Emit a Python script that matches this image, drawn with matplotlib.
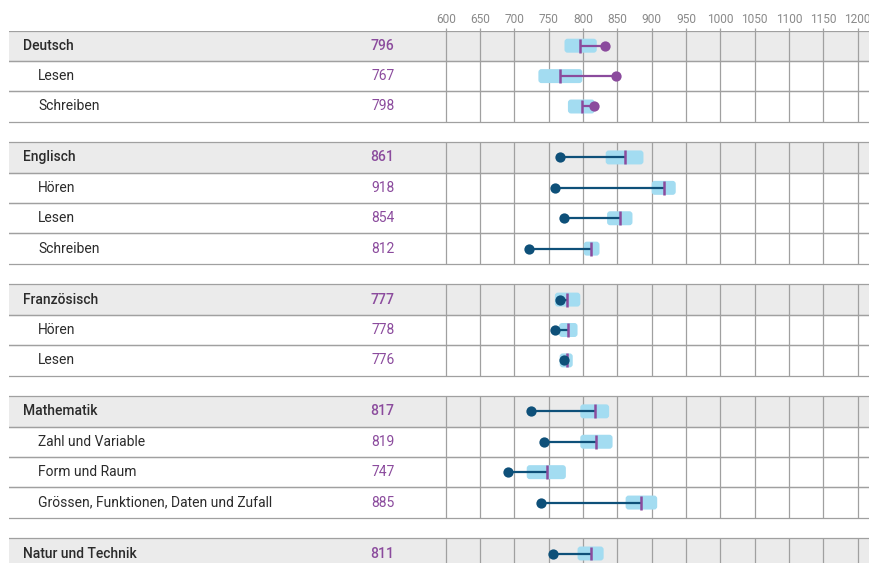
import numpy as np
import matplotlib.pyplot as plt
from matplotlib.patches import FancyBboxPatch
from matplotlib.transforms import blended_transform_factory

plt.rcParams['font.family'] = ['Roboto', 'DejaVu Sans']

# -------------- data --------------
labels = ['Deutsch', 'Lesen', 'Schreiben',
          'Englisch', 'Hören', 'Lesen', 'Schreiben',
          'Französisch', 'Hören', 'Lesen',
          'Mathematik', 'Zahl und Variable', 'Form und Raum',
          'Grössen, Funktionen, Daten und Zufall',
          'Natur und Technik']
group_of_row = [0, 0, 0, 1, 1, 1, 1, 2, 2, 2, 3, 3, 3, 3, 4]
is_header = [True, False, False, True, False, False, False, True, False, False,
             True, False, False, False, True]
values = [796, 767, 798, 861, 918, 854, 812, 777, 778, 776, 817, 819, 747, 885, 811]
box_low = [773, 735, 778, 833, 900, 835, 801, 759, 765, 766, 796, 796, 718, 862, 792]
box_high = [820, 799, 817, 888, 935, 872, 824, 796, 792, 785, 838, 843, 775, 908, 830]
dots = [832, 848, 816, 766, 759, 773, 722, 766, 759, 773, 724, 743, 691, 739, 756]
xticks = [600, 650, 700, 750, 800, 850, 900, 950, 1000, 1050, 1100, 1150, 1200]
# ----------------------------------------------------------

PURPLE = '#8b4b9d'
DARKBLUE = '#0e5079'
BOX = '#a3dcf1'
GRID = '#a0a0a0'
HEADER_BG = '#ebebeb'
TEXT = '#2b2b2b'

W, H = 869, 563
row_px = 30.4
gap = 0.676
top_px = 30.5

fig = plt.figure(figsize=(W / 100, H / 100), dpi=100)
ax = fig.add_axes([9 / W, 0, (W - 9) / W, (H - top_px) / H])

px_per_unit = 412 / 600
x_left = 600 - (445.7 - 9) / px_per_unit
x_right = 600 + (W - 445.7) / px_per_unit
ax.set_xlim(x_left, x_right)
ax.set_ylim((H - top_px) / row_px, 0)

# row positions with gaps between groups
row_top = []
y = 0
for i, g in enumerate(group_of_row):
    if i > 0 and g != group_of_row[i - 1]:
        y += gap
    row_top.append(y)
    y += 1
row_top = np.array(row_top)
row_mid = row_top + 0.5

trans = blended_transform_factory(fig.transFigure, ax.transData)
aspect = (1 / row_px) / (1 / px_per_unit)
box_h = 0.46

for i in range(len(labels)):
    t = row_top[i]
    if is_header[i]:
        ax.axhspan(t, t + 1, color=HEADER_BG, lw=0, zorder=0)
    ax.vlines(xticks, t, t + 1, color=GRID, lw=0.9, zorder=1)
    ax.axhline(t, color=GRID, lw=0.9, zorder=1)
    ax.axhline(t + 1, color=GRID, lw=0.9, zorder=1)

    # confidence box
    box = FancyBboxPatch((box_low[i], row_mid[i] - box_h / 2),
                         box_high[i] - box_low[i], box_h,
                         boxstyle='round,pad=0,rounding_size=4.5',
                         mutation_aspect=aspect, fc=BOX, ec='none', zorder=2)
    ax.add_patch(box)

    col = PURPLE if group_of_row[i] == 0 else DARKBLUE
    ax.plot([values[i], dots[i]], [row_mid[i], row_mid[i]], color=col, lw=1.6,
            solid_capstyle='butt', zorder=3)
    ax.vlines(values[i], row_mid[i] - box_h / 2, row_mid[i] + box_h / 2,
              color=PURPLE, lw=1.8, zorder=4)
    ax.plot(dots[i], row_mid[i], 'o', color=col, ms=7.4, mec='none', zorder=5)

    weight = 'medium' if is_header[i] else 'normal'
    x_lab = 23 / W if is_header[i] else 38 / W
    ax.text(x_lab, row_mid[i], labels[i], transform=trans, ha='left', va='center',
            fontsize=10, color=TEXT, fontweight=weight)
    ax.text(394.5 / W, row_mid[i], str(values[i]), transform=trans, ha='right',
            va='center', fontsize=10, color=PURPLE, fontweight=weight)

ax.xaxis.tick_top()
ax.set_xticks(xticks)
ax.set_xticklabels([str(v) for v in xticks])
ax.tick_params(axis='x', length=2, width=0.9, color=GRID, pad=1.5,
               labelsize=8.6, labelcolor='#8a8a8a')
ax.set_yticks([])
for s in ax.spines.values():
    s.set_visible(False)

plt.savefig('out.png', dpi=100)
